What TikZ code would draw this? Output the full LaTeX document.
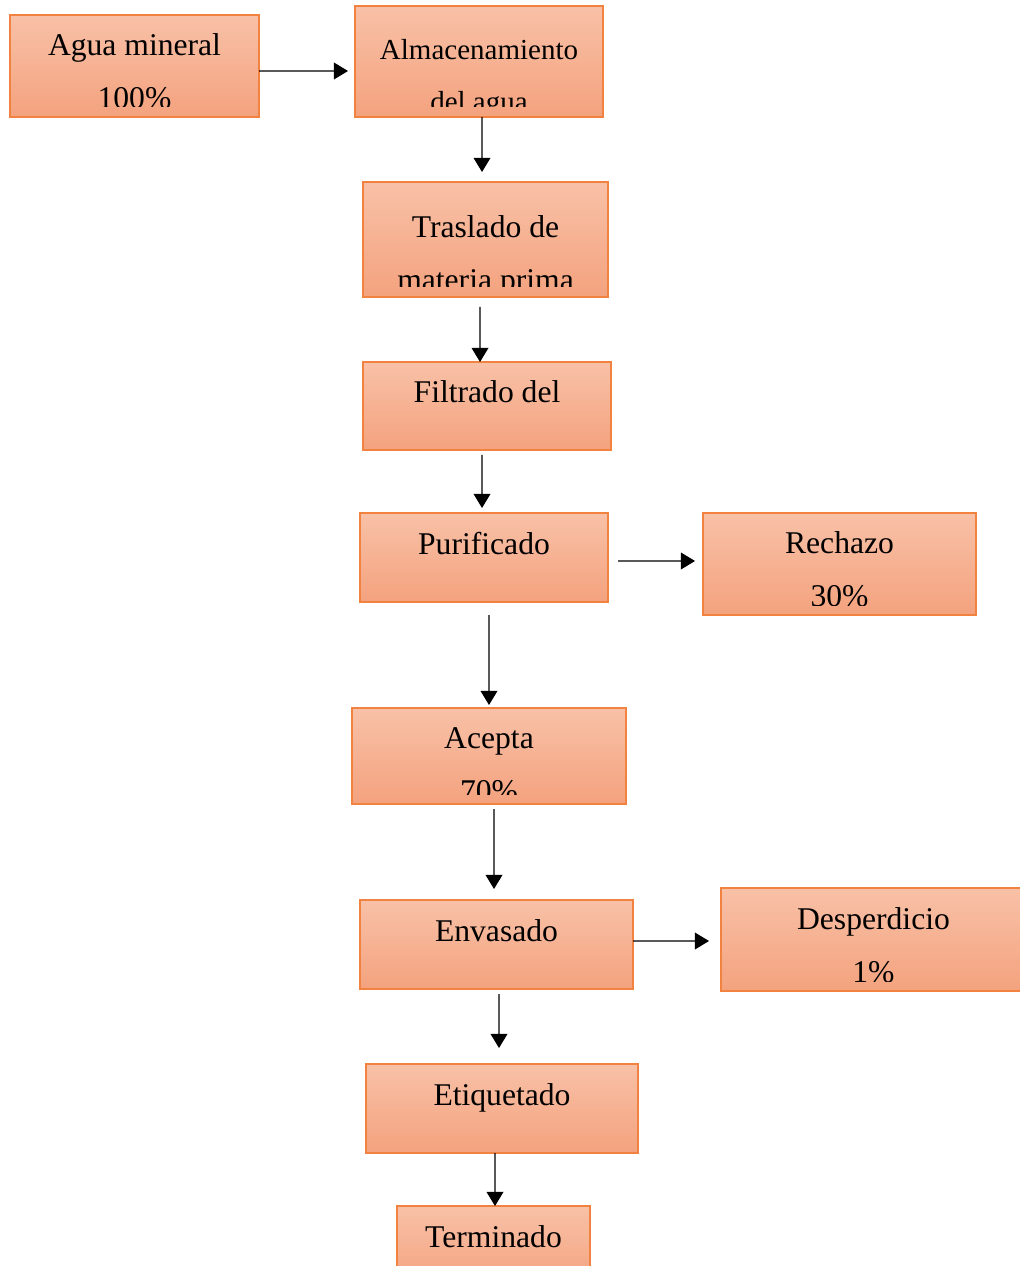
\documentclass[tikz,border=0pt]{standalone}
\usepackage{fontspec}
\setmainfont{Liberation Serif}
\usetikzlibrary{arrows.meta}
\definecolor{claro}{HTML}{F8C1A7}
\definecolor{oscuro}{HTML}{F4A27E}
\definecolor{borde}{HTML}{F2823F}

\begin{document}
\begin{tikzpicture}[x=0.02cm,y=-0.02cm]
\tikzset{
  paso/.style={rectangle,draw=borde,line width=0.8pt,top color=claro,bottom color=oscuro,anchor=north west,inner sep=0pt,outer sep=0pt},
  caja/.style 2 args={minimum width=#1*0.02cm,minimum height=#2*0.02cm},
  texto/.style={anchor=north,align=center,inner sep=0pt,minimum width=0pt,minimum height=0pt,text=black},
  lineas/.style n args={3}{path picture={
      \clip ([yshift=0.2cm]path picture bounding box.south west) rectangle (path picture bounding box.north east);
      \node[texto,font=\fontsize{#2}{30}\selectfont] at ([yshift=-#1*0.02cm]path picture bounding box.north) {#3};}},
  flecha/.style={-{Triangle[length=8pt,width=9.5pt]},line width=0.7pt,draw=black},
}
\useasboundingbox (0,0) rectangle (1019,1266);
\node[paso,caja={249}{102},lineas={19}{18}{Agua mineral\\100\%}] (agua) at (10,15) {};
\node[paso,caja={248}{111},lineas={33}{16.5}{Almacenamiento\\del agua}] (almac) at (355,6) {};
\node[paso,caja={245}{115},lineas={34}{18}{Traslado de\\materia prima}] (trasl) at (363,182) {};
\node[paso,caja={248}{88},lineas={19}{18}{Filtrado del}] (filt) at (363,362) {};
\node[paso,caja={248}{89},lineas={19}{18}{Purificado}] (pur) at (360,513) {};
\node[paso,caja={273}{102},lineas={19}{18}{Rechazo\\30\%}] (rech) at (703,513) {};
\node[paso,caja={274}{96},lineas={20}{18}{Acepta\\70\%}] (acep) at (352,708) {};
\node[paso,caja={273}{89},lineas={20}{18}{Envasado}] (env) at (360,900) {};
\node[paso,caja={305}{103},lineas={20}{18}{Desperdicio\\1\%}] (desp) at (721,888) {};
\node[paso,caja={272}{89},lineas={20}{18}{Etiquetado}] (etiq) at (366,1064) {};
\node[paso,caja={193}{80},lineas={20}{18}{Terminado}] (term) at (397,1206) {};
%
\draw[flecha] ([yshift=-0.1cm]agua.east) -- ([xshift=-0.14cm,yshift=-0.19cm]almac.west);
\draw[flecha] ([xshift=0.06cm]almac.south) -- ([xshift=-0.07cm,yshift=0.2cm]trasl.north);
\draw[flecha] ([xshift=-0.11cm,yshift=-0.2cm]trasl.south) -- ([xshift=-0.14cm]filt.north);
\draw[flecha] ([xshift=-0.1cm,yshift=-0.1cm]filt.south) -- ([xshift=-0.04cm,yshift=0.1cm]pur.north);
\draw[flecha] ([xshift=0.2cm,yshift=-0.07cm]pur.east) -- ([xshift=-0.16cm,yshift=0.06cm]rech.west);
\draw[flecha] ([xshift=0.1cm,yshift=-0.26cm]pur.south) -- ([yshift=0.06cm]acep.north);
\draw[flecha] ([xshift=0.1cm,yshift=-0.1cm]acep.south) -- ([xshift=-0.05cm,yshift=0.22cm]env.north);
\draw[flecha] ([yshift=0.07cm]env.east) -- ([xshift=-0.24cm,yshift=-0.03cm]desp.west);
\draw[flecha] ([xshift=0.05cm,yshift=-0.1cm]env.south) -- ([xshift=-0.06cm,yshift=0.32cm]etiq.north);
\draw[flecha] ([xshift=-0.14cm]etiq.south) -- ([xshift=0.03cm]term.north);
\end{tikzpicture}
\end{document}
